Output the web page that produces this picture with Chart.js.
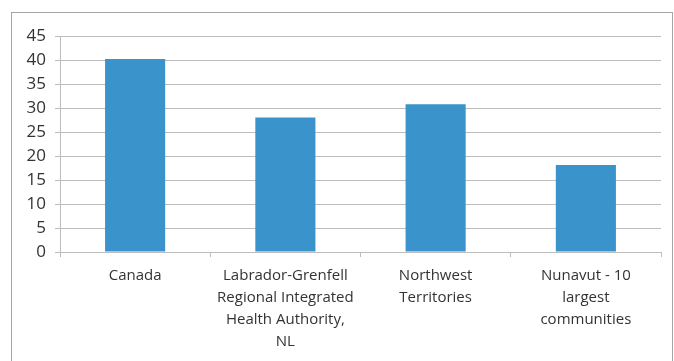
<!DOCTYPE html>
<html>
<head>
<meta charset="utf-8">
<script src="https://cdn.jsdelivr.net/npm/chart.js@4"></script>
<style>
  html, body { margin: 0; padding: 0; background: #fff; }
  #wrap { width: 674px; height: 361px; }
</style>
</head>
<body>
<div id="wrap"><canvas id="chart" width="674" height="361"></canvas></div>
<script>
// data
var categories = [
    ["Canada"],
    ["Labrador-Grenfell", "Regional Integrated", "Health Authority,", "NL"],
    ["Northwest", "Territories"],
    ["Nunavut - 10", "largest", "communities"]
];
var values = [40.2, 28.0, 30.8, 18.1];
var yTicks = [0, 5, 10, 15, 20, 25, 30, 35, 40, 45];

var barColor = '#3a93cb';
var gridColor = '#bdbdbd';

// outer frame like the spreadsheet chart box
var frame = {
    id: 'frame',
    beforeDraw: function (chart) {
        var ctx = chart.ctx;
        ctx.save();
        ctx.fillStyle = '#fff';
        ctx.fillRect(0, 0, chart.width, chart.height);
        ctx.strokeStyle = '#a6a6a6';
        ctx.lineWidth = 1;
        ctx.strokeRect(11.5, 12.5, 661, 360);
        ctx.restore();
    }
};

var chart = new Chart(document.getElementById('chart'), {
    type: 'bar',
    data: {
        labels: categories,
        datasets: [{
            data: values,
            backgroundColor: barColor,
            borderWidth: 0,
            barPercentage: 0.4,
            categoryPercentage: 1.0
        }]
    },
    options: {
        responsive: false,
        animation: false,
        devicePixelRatio: 1,
        layout: { padding: { left: 0, right: 13, top: 36, bottom: 0 } },
        plugins: {
            legend: { display: false },
            tooltip: { enabled: false }
        },
        scales: {
            x: {
                offset: true,
                grid: {
                    offset: true,
                    drawOnChartArea: false,
                    drawTicks: true,
                    tickLength: 5,
                    color: gridColor
                },
                border: { color: gridColor },
                ticks: {
                    color: '#333',
                    padding: 8,
                    maxRotation: 0,
                    autoSkip: false,
                    font: { family: 'Open Sans', size: 15, lineHeight: 1.47 }
                },
                afterFit: function (scale) { scale.height = 109; }
            },
            y: {
                min: 0,
                max: 45,
                afterBuildTicks: function (scale) {
                    scale.ticks = yTicks.map(function (v) { return { value: v }; });
                },
                grid: {
                    color: gridColor,
                    tickLength: 5,
                    lineWidth: 1
                },
                border: { color: gridColor },
                ticks: {
                    color: '#333',
                    padding: 9,
                    font: { family: 'Open Sans', size: 17 }
                },
                afterFit: function (scale) { scale.width = 60; }
            }
        }
    },
    plugins: [frame]
});
</script>
</body>
</html>
